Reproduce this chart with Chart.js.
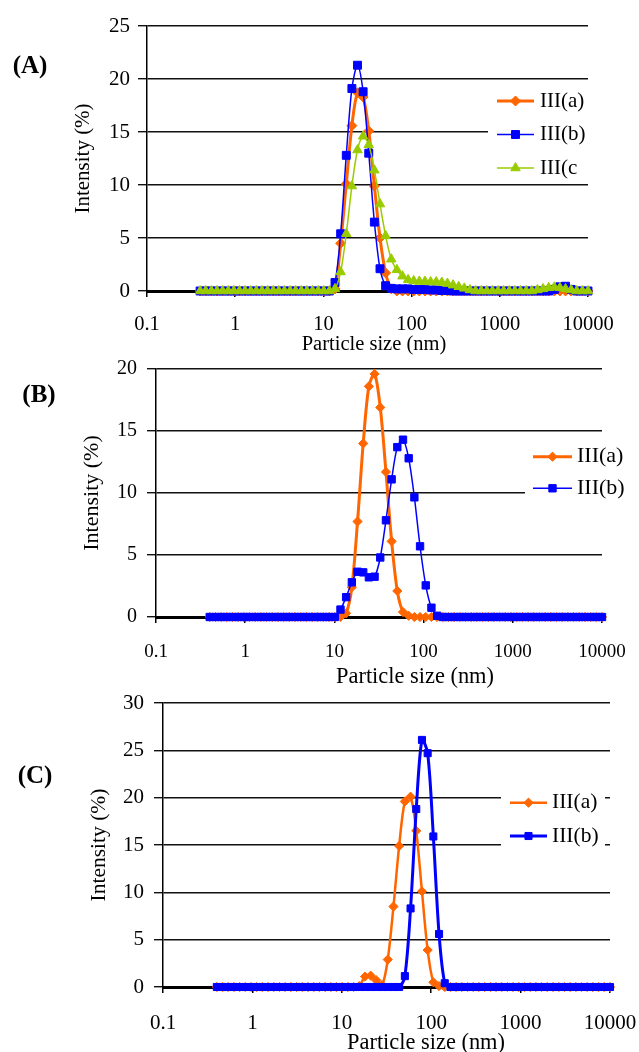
<!DOCTYPE html>
<html><head><meta charset="utf-8">
<script src="https://cdn.jsdelivr.net/npm/chart.js@4.4.1/dist/chart.umd.min.js"></script>
<style>
html,body{margin:0;padding:0;background:#fff;width:639px;height:1052px;overflow:hidden;position:relative;}
canvas{position:absolute;left:0;}
.lbl{position:absolute;font-family:"Liberation Serif","Times New Roman",serif;color:#000;white-space:nowrap;transform:translate(-50%,-50%);line-height:1;}
.pl{font-weight:bold;font-size:25px;}
</style></head><body>
<canvas id="cA" width="639" height="365" style="top:0px"></canvas>
<canvas id="cB" width="639" height="345" style="top:345px"></canvas>
<canvas id="cC" width="639" height="364" style="top:688px"></canvas>
<div class="lbl pl" style="left:30px;top:64px">(A)</div>
<div class="lbl pl" style="left:39px;top:393px">(B)</div>
<div class="lbl pl" style="left:35px;top:774px">(C)</div>
<div class="lbl" style="left:374px;top:343px;font-size:20.5px">Particle size (nm)</div>
<div class="lbl" style="left:415px;top:676px;font-size:22.4px">Particle size (nm)</div>
<div class="lbl" style="left:426px;top:1042px;font-size:22.4px">Particle size (nm)</div>
<script>
// ---- data ----
const sizes = [0.4,0.4632,0.5365,0.6213,0.7195,0.8332,0.9649,1.117,1.294,1.499,
  1.736,2.010,2.328,2.696,3.122,3.615,4.187,4.849,5.615,6.503,
  7.531,8.721,10.10,11.70,13.54,15.69,18.17,21.04,24.36,28.21,
  32.67,37.84,43.82,50.75,58.77,68.06,78.82,91.28,105.7,122.4,
  141.8,164.2,190.1,220.2,255.0,295.3,342.0,396.1,458.7,531.2,
  615.1,712.4,825.0,955.4,1106,1281,1484,1718,1990,2305,
  2669,3091,3580,4145,4801,5560,6439,7456,8635,10000];
const xTickValues = [0.1, 1, 10, 100, 1000, 10000];
const xTickLabels = ['0.1', '1', '10', '100', '1000', '10000'];
const seriesNamesA = ['III(a)', 'III(b)', 'III(c'];
const seriesNamesBC = ['III(a)', 'III(b)'];
const yTitle = 'Intensity (%)';

const A_a = [0,0,0,0,0,0,0,0,0,0, 0,0,0,0,0,0,0,0,0,0,
  0,0,0,0,0.2,4.5,10.1,15.6,18.7,18.3, 15.1,9.9,5.0,1.7,0.2,0,0,0,0,0,
  0,0,0,0,0,0,0,0,0,0, 0,0,0,0,0,0,0,0,0,0, 0,0,0,0,0,0,0,0,0,0];
const A_b = [0,0,0,0,0,0,0,0,0,0, 0,0,0,0,0,0,0,0,0,0,
  0,0,0,0,0.8,5.4,12.8,19.1,21.3,18.8, 13.0,6.5,2.1,0.5,0.25,0.2,0.2,0.2,0.15,0.15,
  0.15,0.1,0.1,0.05,0.05,0,0,0,0,0, 0,0,0,0,0,0,0,0,0,0, 0,0,0,0.15,0.4,0.45,0.15,0,0,0];
const A_c = [0,0,0,0,0,0,0,0,0,0, 0,0,0,0,0,0,0,0,0,0,
  0,0,0,0,0.2,1.8,5.4,9.9,13.3,14.6, 13.8,11.4,8.2,5.2,3.0,2.0,1.4,1.05,0.95,0.9,
  0.9,0.85,0.85,0.8,0.7,0.55,0.4,0.25,0.1,0, 0,0,0,0,0,0,0,0,0,0, 0.1,0.2,0.3,0.35,0.3,0.2,0.1,0,0,0];
const B_a = [0,0,0,0,0,0,0,0,0,0, 0,0,0,0,0,0,0,0,0,0,
  0,0,0,0,0.3,2.4,7.7,14.0,18.6,19.6, 16.9,11.7,6.1,2.1,0.4,0.1,0,0,0,0,
  0,0,0,0,0,0,0,0,0,0, 0,0,0,0,0,0,0,0,0,0, 0,0,0,0,0,0,0,0,0,0];
const B_b = [0,0,0,0,0,0,0,0,0,0, 0,0,0,0,0,0,0,0,0,0,
  0,0,0,0.6,1.6,2.8,3.65,3.6,3.2,3.25, 4.8,7.8,11.1,13.7,14.3,12.8,9.65,5.7,2.55,0.75,
  0.1,0,0,0,0,0,0,0,0,0, 0,0,0,0,0,0,0,0,0,0, 0,0,0,0,0,0,0,0,0,0];
const C_a = [0,0,0,0,0,0,0,0,0,0, 0,0,0,0,0,0,0,0,0,0,
  0,0,0,0,0,0.1,1.1,1.2,0.7,0.2, 2.9,8.5,14.9,19.6,20.1,16.5,10.1,3.9,0.5,0.1,
  0,0,0,0,0,0,0,0,0,0, 0,0,0,0,0,0,0,0,0,0, 0,0,0,0,0,0,0,0,0,0];
const C_b = [0,0,0,0,0,0,0,0,0,0, 0,0,0,0,0,0,0,0,0,0,
  0,0,0,0,0,0,0,0,0,0, 0,0,0,1.15,8.3,18.8,26.1,24.7,15.9,5.6,
  0.4,0,0,0,0,0,0,0,0,0, 0,0,0,0,0,0,0,0,0,0, 0,0,0,0,0,0,0,0,0,0];

// ---- styles ----
const ORANGE = '#FF6600', BLUE = '#0000FF', GREEN = '#99CC00';
const SERIF = '"Liberation Serif", "Times New Roman", serif';

function drawMarker(ctx, style, r, x, y) {
  ctx.beginPath();
  if (style === 'rectRot') {
    ctx.moveTo(x - r, y); ctx.lineTo(x, y - r); ctx.lineTo(x + r, y); ctx.lineTo(x, y + r);
  } else if (style === 'rect') {
    const s = r * Math.SQRT1_2;
    ctx.rect(x - s, y - s, 2 * s, 2 * s);
  } else if (style === 'triangle') {
    for (let k = 0; k < 3; k++) {
      const a = -Math.PI / 2 + k * 2 * Math.PI / 3;
      const px = x + Math.cos(a) * r, py = y + Math.sin(a) * r;
      if (k === 0) ctx.moveTo(px, py); else ctx.lineTo(px, py);
    }
  }
  ctx.closePath();
  ctx.fill();
  ctx.lineWidth = 1;
  ctx.stroke();
}

const boxLegend = {
  id: 'boxLegend',
  afterDatasetsDraw(chart, args, o) {
    const ctx = chart.ctx;
    ctx.save();
    ctx.fillStyle = '#fff';
    ctx.fillRect(o.box[0], o.box[1], o.box[2], o.box[3]);
    chart.data.datasets.forEach((ds, i) => {
      const y = o.ys[i];
      ctx.strokeStyle = ds.borderColor;
      ctx.fillStyle = ds.borderColor;
      ctx.lineWidth = ds.borderWidth;
      ctx.beginPath(); ctx.moveTo(o.x1, y); ctx.lineTo(o.x2, y); ctx.stroke();
      drawMarker(ctx, ds.pointStyle, ds.pointRadius, (o.x1 + o.x2) / 2, y);
      ctx.fillStyle = '#000';
      ctx.font = o.fontSize + 'px ' + SERIF;
      ctx.textBaseline = 'middle';
      ctx.textAlign = 'left';
      ctx.fillText(ds.label, o.tx, y);
    });
    ctx.restore();
  }
};

function makePanel(id, p) {
  const dsets = p.series.map((vals, i) => ({
    label: p.names[i],
    data: sizes.map((s, k) => ({x: s, y: vals[k]})),
    borderColor: p.colors[i], backgroundColor: p.colors[i],
    pointBackgroundColor: p.colors[i], pointBorderColor: p.colors[i],
    borderWidth: p.lw[i], pointStyle: p.ps[i], pointRadius: p.pr[i], pointBorderWidth: 1,
    tension: 0.3, fill: false, clip: false, order: p.series.length - i,
    borderJoinStyle: 'round'
  }));
  const canvas = document.getElementById(id);
  new Chart(canvas, {
    type: 'line',
    data: {datasets: dsets},
    plugins: [boxLegend],
    options: {
      responsive: false, animation: false, events: [], devicePixelRatio: 1,
      layout: {padding: {left: p.padL, top: p.padT, right: p.padR, bottom: 0}},
      plugins: {
        legend: {display: false}, tooltip: {enabled: false},
        boxLegend: p.legend
      },
      scales: {
        x: {
          type: 'logarithmic', min: 0.1, max: 10000,
          afterBuildTicks: (s) => { s.ticks = xTickValues.map(v => ({value: v})); },
          afterFit: (s) => { s.height = p.xH; s.paddingLeft = 0; s.paddingRight = 0; },
          ticks: {autoSkip: false, maxRotation: 0, color: '#000', padding: p.xTickPad,
            font: {family: SERIF, size: p.xTickSize},
            callback: (v, i) => xTickLabels[i]},
          grid: {display: true, drawOnChartArea: false, drawTicks: true, tickLength: 6, color: '#000', lineWidth: 1.5},
          border: {display: true, color: '#000', width: 3}
        },
        y: {
          min: 0, max: p.yMax,
          afterFit: (s) => { s.width = p.yW; s.paddingTop = 0; s.paddingBottom = 0; },
          ticks: {stepSize: 5, color: '#000', padding: p.yTickPad, font: {family: SERIF, size: p.yTickSize}},
          grid: {color: '#111', lineWidth: 1.4, tickLength: 9, drawTicks: true},
          border: {display: true, color: '#000', width: 1.5},
          title: {display: true, text: yTitle, color: '#000', padding: 0, font: {family: SERIF, size: p.yTitleSize}}
        }
      }
    }
  });
}

makePanel('cA', {
  series: [A_a, A_b, A_c], names: seriesNamesA, colors: [ORANGE, BLUE, GREEN],
  lw: [3, 1.5, 1.5], ps: ['rectRot', 'rect', 'triangle'], pr: [5, 5.6, 5.5],
  padL: 70.4, padT: 26, padR: 51, yW: 76.6, xH: 74, yMax: 25,
  xTickPad: 15, xTickSize: 20.5, yTickPad: 8, yTickSize: 21, yTitleSize: 21,
  legend: {box: [488, 88, 130, 90], ys: [101, 134.5, 168], x1: 497, x2: 534, tx: 540, fontSize: 21}
});
makePanel('cB', {
  series: [B_a, B_b], names: seriesNamesBC, colors: [ORANGE, BLUE],
  lw: [3, 1.5], ps: ['rectRot', 'rect'], pr: [4.6, 5.2],
  padL: 78.8, padT: 24, padR: 37, yW: 77.2, xH: 73, yMax: 20,
  xTickPad: 18, xTickSize: 19, yTickPad: 10, yTickSize: 20, yTitleSize: 22,
  legend: {box: [525, 95, 114, 65], ys: [111.7, 143.3], x1: 533, x2: 572, tx: 577, fontSize: 22}
});
makePanel('cC', {
  series: [C_a, C_b], names: seriesNamesBC, colors: [ORANGE, BLUE],
  lw: [2.5, 3], ps: ['rectRot', 'rect'], pr: [4.6, 5],
  padL: 86.1, padT: 15, padR: 29, yW: 76.9, xH: 65, yMax: 30,
  xTickPad: 18, xTickSize: 21, yTickPad: 10, yTickSize: 21, yTitleSize: 21.5,
  legend: {box: [501, 97, 104, 70], ys: [114.7, 148], x1: 510, x2: 547, tx: 552, fontSize: 21.5}
});
</script>
</body></html>
